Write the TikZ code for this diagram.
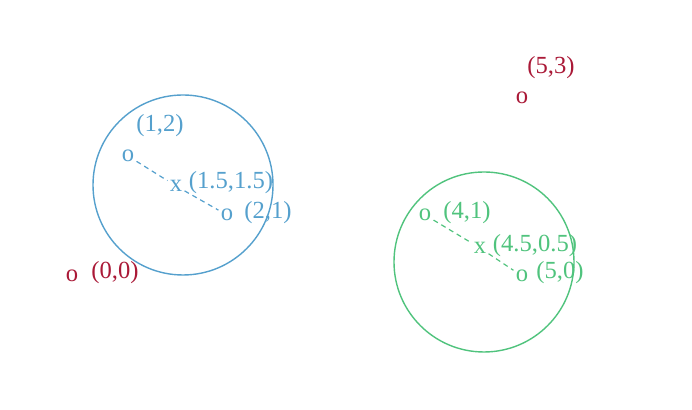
\documentclass[tikz,border=0pt]{standalone}
\usepackage{fontspec}
\setmainfont{Liberation Serif}
\usepackage{xcolor}
\usetikzlibrary{positioning}
\definecolor{ptblue}{RGB}{85,160,205}
\definecolor{ptgreen}{RGB}{80,195,125}
\definecolor{ptred}{RGB}{170,25,55}

\begin{document}
\begin{tikzpicture}[
   x=0.5pt, y=-0.5pt,
   font=\fontsize{12.3}{14}\selectfont,
   pt/.style={inner sep=1pt, text=#1, yshift=-1pt},
   lbl/.style={inner sep=0pt, text=#1},
   ring/.style={draw=#1, line width=0.7pt},
   link/.style={draw=#1, line width=0.6pt, dash pattern=on 2.5pt off 2pt},
]
\useasboundingbox (0,0) rectangle (692,410);

% ---- blue cluster ----
\draw[ring=ptblue] (183,185) circle[radius=45pt];
\node[pt=ptblue] (b1) at (128,154) {o};
\node[pt=ptblue] (bx) at (176,184) {x};
\node[pt=ptblue] (b2) at (227,213) {o};
\node[lbl=ptblue] (b1l) at (160,126) {(1,2)};
\node[lbl=ptblue] (bxl) at (231,183) {(1.5,1.5)};
\node[lbl=ptblue] (b2l) at (268,213) {(2,1)};
\draw[link=ptblue] (b1) -- (bx) -- (b2);

% ---- green cluster ----
\draw[ring=ptgreen] (484,262) circle[radius=45pt];
\node[pt=ptgreen] (g1) at (425,213) {o};
\node[pt=ptgreen] (gx) at (480,246) {x};
\node[pt=ptgreen] (g2) at (522,274) {o};
\node[lbl=ptgreen] (g1l) at (467,213) {(4,1)};
\node[lbl=ptgreen] (gxl) at (535,246) {(4.5,0.5)};
\node[lbl=ptgreen] (g2l) at (560,273) {(5,0)};
\draw[link=ptgreen] (g1) -- (gx) -- (g2);

% ---- outliers ----
\node[pt=ptred] (r1) at (72,274) {o};
\node[lbl=ptred] (r1l) at (115,273) {(0,0)};
\node[pt=ptred] (r2) at (522,96) {o};
\node[lbl=ptred] (r2l) at (551,68) {(5,3)};
\end{tikzpicture}
\end{document}
